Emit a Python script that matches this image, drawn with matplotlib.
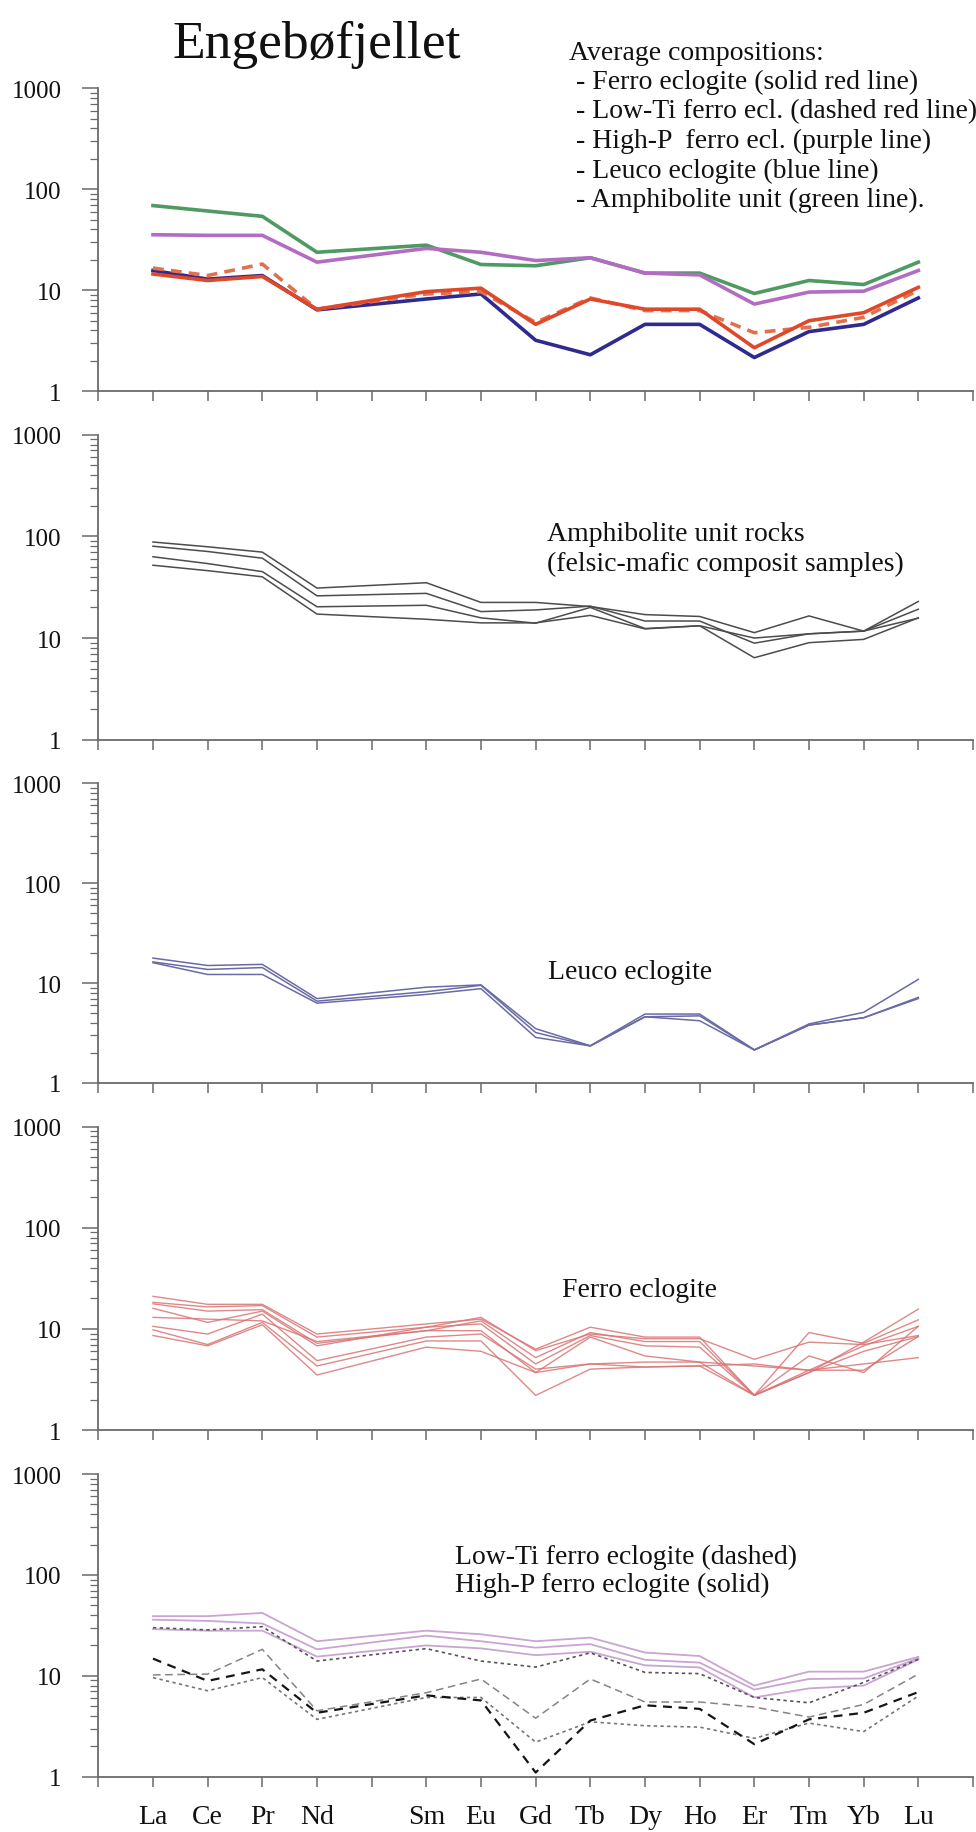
import matplotlib
matplotlib.use("Agg")
import matplotlib.pyplot as plt
from matplotlib.ticker import FixedLocator, LogLocator, NullFormatter

plt.rcParams['font.family'] = ['Liberation Serif', 'DejaVu Serif']

# Rare earth elements (chondrite-normalised patterns); Pm keeps its slot on the axis
lanthanides = ["La", "Ce", "Pr", "Nd", "Pm", "Sm", "Eu", "Gd", "Tb",
               "Dy", "Ho", "Er", "Tm", "Yb", "Lu"]
ree = [e for e in lanthanides if e != "Pm"]
y_ticks = [1, 10, 100, 1000]
y_tick_labels = ["1", "10", "100", "1000"]

# Average compositions
avg_ferro = [14.5, 12.5, 13.7, 6.5, 9.7, 10.5, 4.6, 8.2, 6.5, 6.5, 2.7, 5.0, 6.0, 10.7]
avg_lowti = [16.6, 14.0, 18.2, 6.5, 9.2, 9.7, 4.8, 8.4, 6.3, 6.3, 3.8, 4.3, 5.4, 10.0]
avg_highp = [35.5, 35.0, 35.0, 19.0, 26.0, 23.8, 19.7, 21.0, 14.8, 14.2, 7.3, 9.6, 9.8, 15.7]
avg_leuco = [15.7, 12.9, 14.0, 6.4, 8.2, 9.2, 3.2, 2.3, 4.6, 4.6, 2.16, 3.9, 4.6, 8.4]
avg_amph = [69.0, 61.0, 54.0, 23.8, 28.0, 18.0, 17.5, 21.0, 14.8, 14.8, 9.3, 12.5, 11.4, 19.0]

# Amphibolite unit rocks
amph_1 = [88, 79, 70, 31, 35, 22.4, 22.4, 20.4, 17.0, 16.3, 11.3, 16.5, 11.7, 22.9]
amph_2 = [80, 71, 61, 26, 27.5, 18.2, 18.9, 20.6, 14.7, 14.7, 8.9, 11.0, 11.7, 19.2]
amph_3 = [63, 54, 45, 20.3, 21, 15.8, 14.0, 20.0, 12.4, 13.2, 10.0, 11.0, 11.7, 15.7]
amph_4 = [52, 46, 40, 17.2, 15.3, 14.1, 14.1, 16.7, 12.3, 13.2, 6.4, 9.0, 9.7, 15.8]

# Leuco eclogite
leuco_1 = [17.8, 15.0, 15.4, 7.0, 9.1, 9.6, 3.5, 2.36, 4.9, 4.9, 2.15, 3.9, 5.1, 10.9]
leuco_2 = [16.3, 13.7, 14.3, 6.6, 8.2, 9.5, 3.2, 2.35, 4.6, 4.2, 2.14, 3.8, 4.5, 7.2]
leuco_3 = [16.0, 12.2, 12.2, 6.3, 7.7, 8.8, 2.86, 2.35, 4.6, 4.7, 2.14, 3.8, 4.5, 7.0]

# Ferro eclogite
ferro_1 = [21.0, 17.5, 17.5, 8.9, 11.2, 12.5, 6.3, 10.4, 8.3, 8.3, 2.2, 3.7, 7.4, 15.7]
ferro_2 = [18.3, 16.5, 17.0, 8.3, 10.4, 13.0, 6.1, 8.9, 8.0, 8.0, 5.0, 7.4, 7.0, 8.6]
ferro_3 = [17.7, 15.0, 15.5, 7.2, 9.6, 12.0, 5.2, 9.2, 7.5, 7.5, 2.2, 9.2, 7.2, 12.3]
ferro_4 = [16.0, 11.6, 15.0, 6.8, 10.4, 11.2, 4.5, 8.6, 6.8, 6.6, 2.2, 5.4, 3.7, 10.6]
ferro_5 = [13.0, 12.5, 12.0, 7.5, 9.6, 9.6, 3.7, 8.3, 5.4, 4.7, 4.3, 3.9, 3.9, 8.4]
ferro_6 = [10.6, 8.9, 14.0, 4.85, 8.3, 8.9, 4.0, 4.5, 4.7, 4.7, 2.2, 3.9, 6.8, 10.6]
ferro_7 = [9.8, 7.0, 11.6, 4.3, 7.6, 7.6, 2.2, 4.0, 4.2, 4.3, 2.2, 3.7, 6.0, 8.4]
ferro_8 = [8.6, 6.8, 11.0, 3.5, 6.6, 6.0, 3.7, 4.5, 4.2, 4.3, 4.5, 3.9, 4.5, 5.2]

# High-P ferro eclogite (solid)
highp_1 = [39, 39, 42, 22, 28, 25.8, 22, 23.9, 17, 15.7, 8.0, 11, 11, 15.4]
highp_2 = [36, 35, 33, 18.3, 25, 22, 19, 20.6, 14.4, 13.5, 7.3, 9.3, 9.4, 14.9]
highp_3 = [29, 28, 28, 15.5, 20, 18.7, 16, 17.3, 12.7, 12.1, 6.1, 7.5, 8, 14.5]

# Low-Ti ferro eclogite (dashed)
lowti_1 = [30, 28.5, 30.7, 14, 18.6, 14.0, 12.2, 16.9, 10.8, 10.5, 6.1, 5.4, 8.6, 14.6]
lowti_2 = [14.8, 8.9, 11.6, 4.3, 6.4, 5.7, 1.1, 3.6, 5.1, 4.7, 2.1, 3.7, 4.3, 6.9]
lowti_3 = [10.2, 10.4, 18.3, 4.5, 6.8, 9.3, 3.8, 9.3, 5.5, 5.5, 4.9, 3.9, 5.2, 10.4]
lowti_4 = [9.6, 7.1, 9.6, 3.7, 6.1, 6.1, 2.2, 3.5, 3.2, 3.1, 2.4, 3.4, 2.8, 6.3]

x = [lanthanides.index(e) + 1 for e in ree]

W, H = 976, 1833
fig = plt.figure(figsize=(W / 100, H / 100), dpi=100)
fig.patch.set_facecolor("white")

AX_COL = "#6a6a6a"
TXT = "#111111"
FS = 20
FS_Y = 18


def add_panel(top_px, bottom_px, xlabels=False):
    left_px, right_px = 98.3, 973.0
    ax = fig.add_axes([left_px / W, 1 - bottom_px / H,
                       (right_px - left_px) / W, (bottom_px - top_px) / H])
    ax.set_yscale("log")
    ax.set_ylim(1, 1000)
    ax.set_xlim(0, 16)
    for s in ("top", "right"):
        ax.spines[s].set_visible(False)
    for s in ("left", "bottom"):
        ax.spines[s].set_color(AX_COL)
        ax.spines[s].set_linewidth(1.3)
    ax.yaxis.set_major_locator(FixedLocator(y_ticks))
    ax.set_yticklabels(y_tick_labels)
    ax.yaxis.set_minor_locator(LogLocator(base=10, subs=range(2, 10)))
    ax.yaxis.set_minor_formatter(NullFormatter())
    ax.tick_params(axis="y", which="major", direction="out", length=11.5,
                   width=1.1, color=AX_COL, pad=15, labelsize=FS_Y, labelcolor=TXT)
    ax.tick_params(axis="y", which="minor", direction="out", length=5.5,
                   width=0.9, color=AX_COL)
    ax.set_xticks(range(0, 17))
    if xlabels:
        ax.set_xticklabels([lanthanides[i - 1] if 1 <= i <= 15 and lanthanides[i - 1] in ree else ""
                            for i in range(0, 17)])
    else:
        ax.set_xticklabels([""] * 17)
    ax.tick_params(axis="x", which="major", direction="out", length=7.5,
                   width=1.1, color=AX_COL, pad=12, labelsize=FS, labelcolor=TXT)
    ax.patch.set_alpha(0)
    return ax


# Panel 1: averages
ax1 = add_panel(89.3, 392.3)
ax1.plot(x, avg_amph, color="#4f9a62", lw=2.6)
ax1.plot(x, avg_highp, color="#b26cc2", lw=2.6)
ax1.plot(x, avg_leuco, color="#2e2a8e", lw=2.6)
ax1.plot(x, avg_lowti, color="#e2704f", lw=2.6, dashes=(3, 2))
ax1.plot(x, avg_ferro, color="#e0482a", lw=2.6)

fig.text(172 / W, 1 - 58 / H, "Engebøfjellet", fontsize=38.5, color=TXT,
         ha="left", va="baseline")
legend_lines = ["Average compositions:",
                " - Ferro eclogite (solid red line)",
                " - Low-Ti ferro ecl. (dashed red line)",
                " - High-P  ferro ecl. (purple line)",
                " - Leuco eclogite (blue line)",
                " - Amphibolite unit (green line)."]
for i, line in enumerate(legend_lines):
    fig.text(569 / W, 1 - (53.0 + 29.5 * i) / H, line, fontsize=FS, color=TXT,
             ha="left", va="center")

# Panel 2: amphibolite unit rocks
ax2 = add_panel(435.7, 740.7)
for s in (amph_1, amph_2, amph_3, amph_4):
    ax2.plot(x, s, color="#4c4c4c", lw=1.1)
ax2.text(8.2, 107, "Amphibolite unit rocks", fontsize=FS, color=TXT, va="center")
ax2.text(8.2, 53.6, "(felsic-mafic composit samples)", fontsize=FS, color=TXT, va="center")

# Panel 3: leuco eclogite
ax3 = add_panel(784.3, 1084)
for s in (leuco_1, leuco_2, leuco_3):
    ax3.plot(x, s, color="#6a6aa6", lw=1.1)
ax3.text(8.23, 13.2, "Leuco eclogite", fontsize=FS, color=TXT, va="center")

# Panel 4: ferro eclogite
ax4 = add_panel(1127.7, 1431)
for s in (ferro_1, ferro_2, ferro_3, ferro_4, ferro_5, ferro_6, ferro_7, ferro_8):
    ax4.plot(x, s, color="#d97474", lw=1.0, alpha=0.85)
ax4.text(8.48, 24.8, "Ferro eclogite", fontsize=FS, color=TXT, va="center")

# Panel 5: low-Ti and high-P ferro eclogite
ax5 = add_panel(1475, 1777.7, xlabels=True)
for s in (highp_1, highp_2, highp_3):
    ax5.plot(x, s, color="#caa4d2", lw=1.3)
ax5.plot(x, lowti_1, color="#555555", lw=1.2, dashes=(2, 2))
ax5.plot(x, lowti_3, color="#858585", lw=1.1, dashes=(5, 3))
ax5.plot(x, lowti_4, color="#767676", lw=1.2, dashes=(2, 2))
ax5.plot(x, lowti_2, color="#151515", lw=1.6, dashes=(4, 3))
ax5.text(6.52, 153, "Low-Ti ferro eclogite (dashed)", fontsize=FS, color=TXT, va="center")
ax5.text(6.52, 80, "High-P ferro eclogite (solid)", fontsize=FS, color=TXT, va="center")

fig.savefig("out.png", dpi=100, facecolor="white")
